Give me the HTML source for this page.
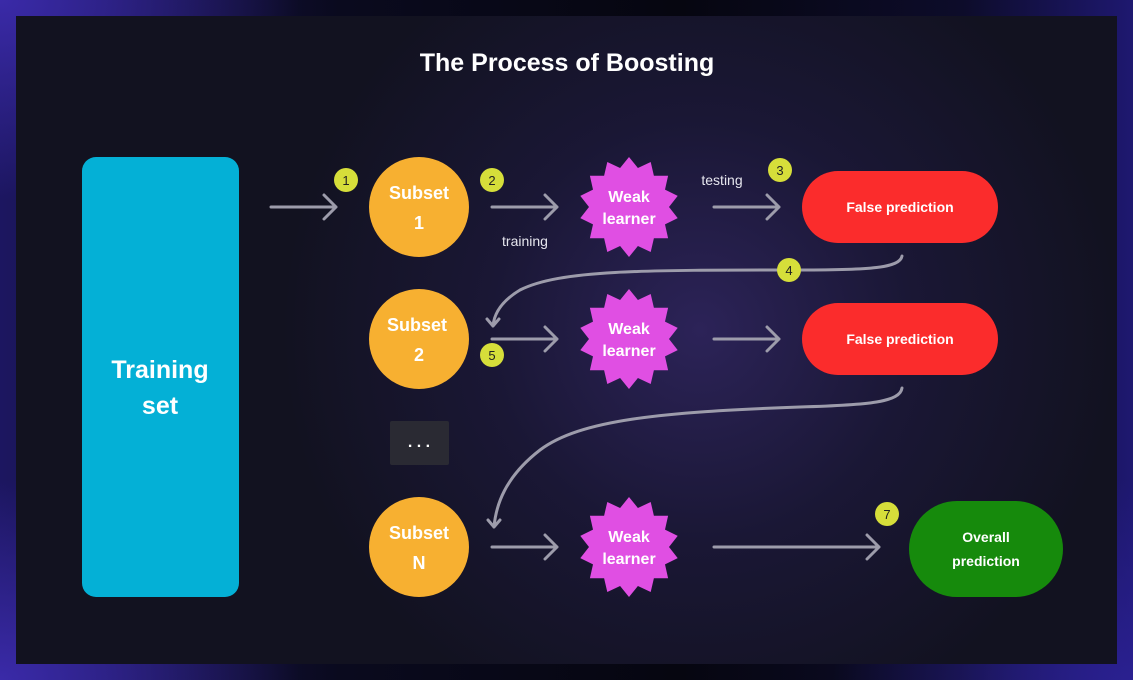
<!DOCTYPE html>
<html><head><meta charset="utf-8"><style>
html,body{margin:0;padding:0;width:1133px;height:680px;overflow:hidden;background:#0b0a24;}
body{background:radial-gradient(ellipse 300px 200px at 0% 0%,#3a2aa8,transparent),radial-gradient(ellipse 300px 200px at 0% 100%,#3a2aa8,transparent),radial-gradient(ellipse 300px 200px at 100% 100%,#2a2090,transparent),linear-gradient(90deg,#1c1660 0%,#0a0a1e 30%,#060610 60%,#0d0c2a 85%,#1e1870 100%);}
</style></head><body>
<svg width="1133" height="680" viewBox="0 0 1133 680" xmlns="http://www.w3.org/2000/svg" style="position:absolute;left:0;top:0">
<defs>
<radialGradient id="glow" cx="700" cy="330" r="420" gradientUnits="userSpaceOnUse">
<stop offset="0" stop-color="#2c2358"/><stop offset="0.5" stop-color="#1a1735"/><stop offset="1" stop-color="#121220"/>
</radialGradient>
<polygon id="star" points="0,-50 8.9,-39 21.7,-45 24.9,-31.3 39.1,-31.2 36,-17.4 48.7,-11.1 40,0 48.7,11.1 36,17.4 39.1,31.2 24.9,31.3 21.7,45 8.9,39 0,50 -8.9,39 -21.7,45 -24.9,31.3 -39.1,31.2 -36,17.4 -48.7,11.1 -40,0 -48.7,-11.1 -36,-17.4 -39.1,-31.2 -24.9,-31.3 -21.7,-45 -8.9,-39" fill="#e04fe3"/>
</defs>
<rect x="16" y="16" width="1101" height="648" fill="url(#glow)"/>
<g font-family="Liberation Sans, sans-serif" font-weight="bold" fill="#fff" text-anchor="middle">
<text x="567" y="71" font-size="25">The Process of Boosting</text>
<rect x="82" y="157" width="157" height="440" rx="14" fill="#04b0d6"/>
<text x="160" y="378" font-size="25">Training</text>
<text x="160" y="414" font-size="25">set</text>
<circle cx="419" cy="207" r="50" fill="#f7b031"/>
<circle cx="419" cy="339" r="50" fill="#f7b031"/>
<circle cx="419" cy="547" r="50" fill="#f7b031"/>
<text x="419" y="199" font-size="18">Subset</text><text x="419" y="229" font-size="18">1</text>
<text x="417" y="331" font-size="18">Subset</text><text x="419" y="361" font-size="18">2</text>
<text x="419" y="539" font-size="18">Subset</text><text x="419" y="569" font-size="18">N</text>
<use href="#star" x="629" y="207"/><use href="#star" x="629" y="339"/><use href="#star" x="629" y="547"/>
<text x="629" y="202" font-size="16">Weak</text><text x="629" y="224" font-size="16">learner</text>
<text x="629" y="334" font-size="16">Weak</text><text x="629" y="356" font-size="16">learner</text>
<text x="629" y="542" font-size="16">Weak</text><text x="629" y="564" font-size="16">learner</text>
<rect x="802" y="171" width="196" height="72" rx="36" fill="#fb2c2c"/>
<rect x="802" y="303" width="196" height="72" rx="36" fill="#fb2c2c"/>
<text x="900" y="212" font-size="14">False prediction</text>
<text x="900" y="344" font-size="14">False prediction</text>
<rect x="909" y="501" width="154" height="96" rx="48" fill="#168a0c"/>
<text x="986" y="542" font-size="14">Overall</text><text x="986" y="566" font-size="14">prediction</text>
<rect x="390" y="421" width="59" height="44" rx="2" fill="#2a2a33"/>
<text x="419" y="447" font-size="16">. . .</text>
</g>
<g stroke="#9d9cab" stroke-width="3" fill="none" stroke-linecap="round" stroke-linejoin="round">
<path d="M271 207H336M324 195L336 207L324 219"/>
<path d="M492 207H557M545 195L557 207L545 219"/>
<path d="M714 207H779M767 195L779 207L767 219"/>
<path d="M492 339H557M545 327L557 339L545 351"/>
<path d="M714 339H779M767 327L779 339L767 351"/>
<path d="M492 547H557M545 535L557 547L545 559"/>
<path d="M714 547H879M867 535L879 547L867 559"/>
<path d="M902 256C900 268 870 270 800 270C640 270 560 270 520 290C500 302 494 315 493 326M487 319L493 326L499 319"/>
<path d="M902 388C900 402 870 405 800 407C660 412 580 420 540 450C505 477 496 505 494 527M488 520L494 527L500 520"/>
</g>
<g font-family="Liberation Sans, sans-serif" font-size="14" fill="#e6e6ee" text-anchor="middle">
<text x="525" y="246">training</text>
<text x="722" y="185">testing</text>
</g>
<g font-family="Liberation Sans, sans-serif" font-size="13" fill="#222" text-anchor="middle">
<circle cx="346" cy="180" r="12" fill="#d6de3a"/><text x="346" y="185">1</text>
<circle cx="492" cy="180" r="12" fill="#d6de3a"/><text x="492" y="185">2</text>
<circle cx="780" cy="170" r="12" fill="#d6de3a"/><text x="780" y="175">3</text>
<circle cx="789" cy="270" r="12" fill="#d6de3a"/><text x="789" y="275">4</text>
<circle cx="492" cy="355" r="12" fill="#d6de3a"/><text x="492" y="360">5</text>
<circle cx="887" cy="514" r="12" fill="#d6de3a"/><text x="887" y="519">7</text>
</g>
</svg>
</body></html>
